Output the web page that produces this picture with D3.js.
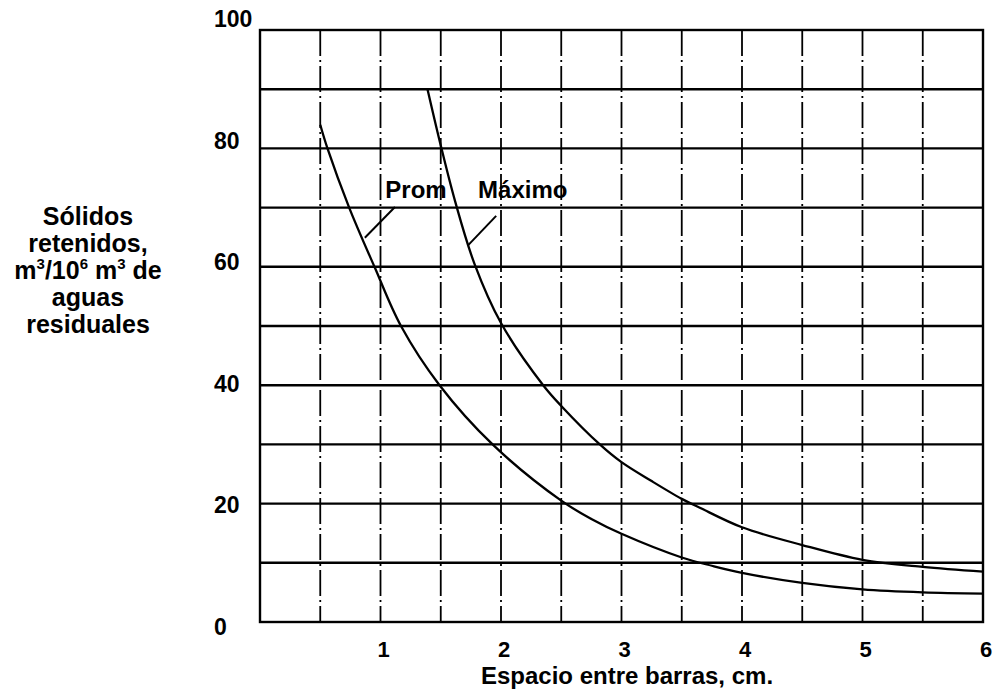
<!DOCTYPE html>
<html>
<head>
<meta charset="utf-8">
<script src="https://cdn.jsdelivr.net/npm/d3@7"></script>
<style>
  html, body { margin: 0; padding: 0; background: #fff; }
  svg { display: block; }
  text { font-family: "Liberation Sans", Arial, sans-serif; font-weight: bold; fill: #000; }
</style>
</head>
<body>
<svg id="chart" width="1000" height="691"></svg>
<script>
// Solids retained on screens vs. bar spacing
const xTickValues = [1, 2, 3, 4, 5, 6];
const yTickValues = [0, 20, 40, 60, 80, 100];
const hGridValues = [10, 20, 30, 40, 50, 60, 70, 80, 90];
const vGridValues = [0.5, 1, 1.5, 2, 2.5, 3, 3.5, 4, 4.5, 5, 5.5];

// Average curve (Prom)
const promX = [0.5, 0.56, 0.74, 0.95, 1.17, 1.49, 1.93, 2.5, 2.75, 3.0, 3.5, 3.75, 4.0, 4.5, 5.0, 5.5, 6.0];
const promY = [84, 80, 70, 60, 50, 40, 30, 20.5, 17.4, 14.9, 10.9, 9.5, 8.3, 6.6, 5.5, 5.0, 4.8];

// Maximum curve (Máximo)
const maxX = [1.39, 1.5, 1.62, 1.78, 2.0, 2.35, 2.5, 2.82, 3.0, 3.25, 3.5, 3.65, 4.0, 4.5, 5.0, 5.5, 6.0];
const maxY = [90, 80.5, 71, 60.5, 50.5, 40, 36.5, 30, 27, 23.8, 20.8, 19.3, 16, 13, 10.5, 9.3, 8.5];

const curveNames = ["Prom", "Máximo"];
const yTitleLines = [
  [["Sólidos", false]],
  [["retenidos,", false]],
  [["m", false], ["3", true], ["/10", false], ["6", true], [" m", false], ["3", true], [" de", false]],
  [["aguas", false]],
  [["residuales", false]]
];
const xTitle = "Espacio entre barras, cm.";

const svg = d3.select("#chart");

const x = d3.scaleLinear().domain([0, 6]).range([260, 983]);
const y = d3.scaleLinear().domain([0, 100]).range([622, 30]);
// tick labels sit on a slightly wider spread than the grid
const yLabel = d3.scaleLinear().domain([0, 100]).range([635, 27]);

svg.append("rect").attr("width", 1000).attr("height", 691).attr("fill", "#fff");

const g = svg.append("g");

// vertical dash-dot grid
g.selectAll("line.v").data(vGridValues).join("line")
  .attr("class", "v")
  .attr("x1", d => x(d)).attr("x2", d => x(d))
  .attr("y1", y(100)).attr("y2", y(0))
  .attr("stroke", "#000").attr("stroke-width", 1.8)
  .attr("stroke-dasharray", "26,4,2,4");

// horizontal solid grid
g.selectAll("line.h").data(hGridValues).join("line")
  .attr("class", "h")
  .attr("x1", x(0)).attr("x2", x(6))
  .attr("y1", d => y(d)).attr("y2", d => y(d))
  .attr("stroke", "#000").attr("stroke-width", 2.4);

// frame
g.append("rect")
  .attr("x", x(0)).attr("y", y(100))
  .attr("width", x(6) - x(0)).attr("height", y(0) - y(100))
  .attr("fill", "none").attr("stroke", "#000").attr("stroke-width", 2.4);

// curves
const line = d3.line().x(d => x(d[0])).y(d => y(d[1])).curve(d3.curveCatmullRom.alpha(0.5));
const series = [d3.zip(promX, promY), d3.zip(maxX, maxY)];
g.selectAll("path.curve").data(series).join("path")
  .attr("class", "curve")
  .attr("d", line)
  .attr("fill", "none").attr("stroke", "#000").attr("stroke-width", 2.3);

// curve labels with leader lines
const labelAt = [[1.04, 71.6], [1.81, 71.6]];
const leaders = [[[0.87, 64.9], [1.12, 70.1]], [[1.73, 63.7], [1.96, 68.6]]];
g.selectAll("text.cname").data(curveNames).join("text")
  .attr("class", "cname")
  .attr("x", (d, i) => x(labelAt[i][0]))
  .attr("y", (d, i) => y(labelAt[i][1]))
  .attr("font-size", 24)
  .text(d => d);
g.selectAll("path.leader").data(leaders).join("path")
  .attr("class", "leader")
  .attr("d", d3.line().x(d => x(d[0])).y(d => y(d[1])))
  .attr("fill", "none").attr("stroke", "#000").attr("stroke-width", 2);

// y tick labels
svg.selectAll("text.ytick").data(yTickValues).join("text")
  .attr("class", "ytick")
  .attr("x", 214)
  .attr("y", d => yLabel(d))
  .attr("font-size", 23)
  .text(d => d);

// x tick labels
svg.selectAll("text.xtick").data(xTickValues).join("text")
  .attr("class", "xtick")
  .attr("x", d => x(d) + 3)
  .attr("y", 657)
  .attr("text-anchor", "middle")
  .attr("font-size", 22)
  .text(d => d);

// x axis title
svg.append("text")
  .attr("x", 627).attr("y", 684)
  .attr("text-anchor", "middle")
  .attr("font-size", 24)
  .text(xTitle);

// y axis title, one text per line, superscripts as raised tspans
svg.selectAll("text.ytitle").data(yTitleLines).join("text")
  .attr("class", "ytitle")
  .attr("x", 88)
  .attr("y", (d, i) => 225 + i * 27)
  .attr("text-anchor", "middle")
  .attr("font-size", 25)
  .each(function (parts) {
    const t = d3.select(this);
    let raised = false;
    parts.forEach(([s, sup]) => {
      const sp = t.append("tspan").text(s);
      if (sup && !raised) { sp.attr("dy", -10).attr("font-size", 15); raised = true; }
      else if (!sup && raised) { sp.attr("dy", 10); raised = false; }
    });
  });
</script>
</body>
</html>
